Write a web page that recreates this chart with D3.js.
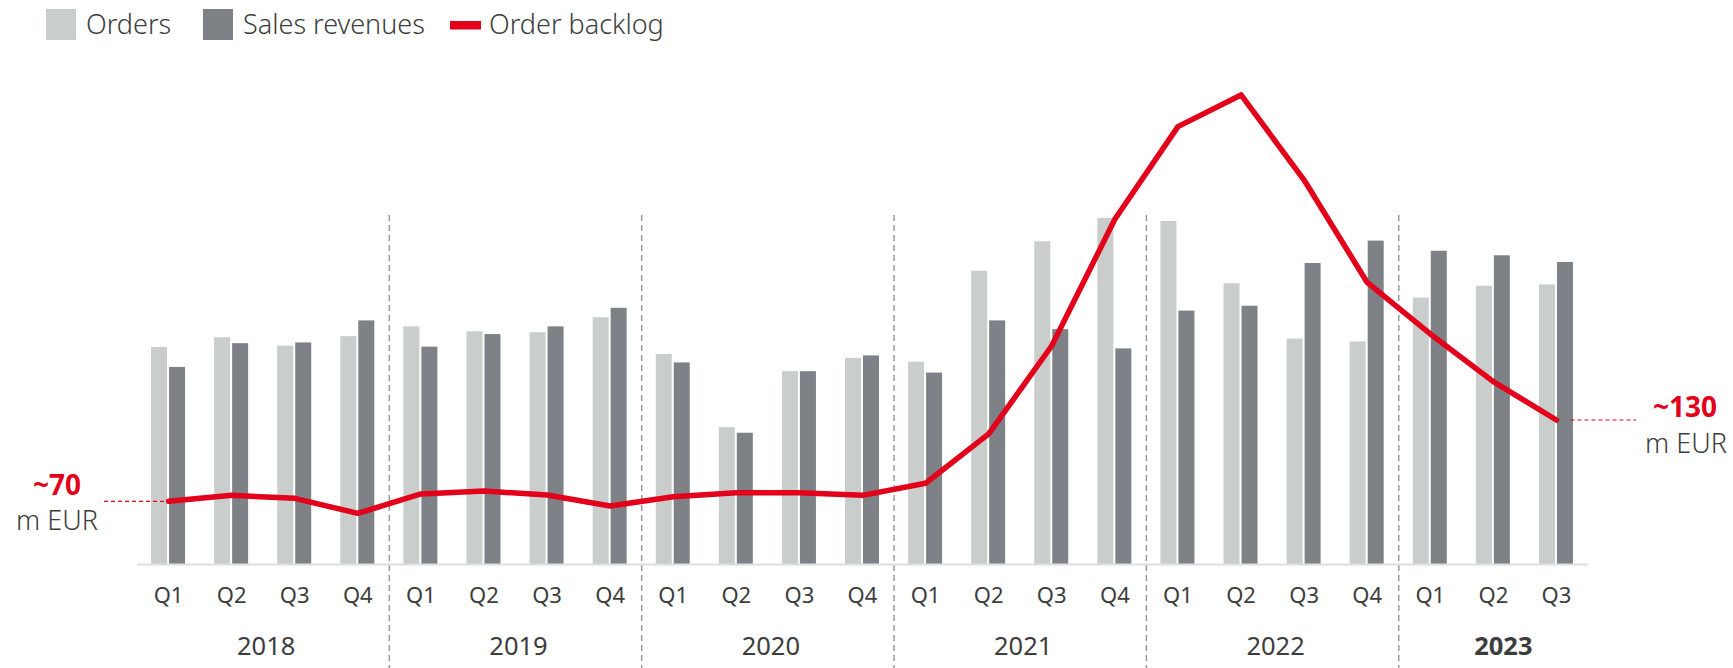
<!DOCTYPE html>
<html>
<head>
<meta charset="utf-8">
<script src="https://cdn.jsdelivr.net/npm/d3@7"></script>
<style>
  body { margin: 0; background: #fff; }
  text { font-family: "Noto Sans", Lato, sans-serif; }
  .light { font-weight: 300; }
</style>
</head>
<body>
<svg id="chart" width="1733" height="668"></svg>
<script>
let years = ["2018", "2019", "2020", "2021", "2022", "2023"];
let quarters = ["Q1", "Q2", "Q3", "Q4",
  "Q1", "Q2", "Q3", "Q4",
  "Q1", "Q2", "Q3", "Q4",
  "Q1", "Q2", "Q3", "Q4",
  "Q1", "Q2", "Q3", "Q4",
  "Q1", "Q2", "Q3"];
let quarterYear = [0, 0, 0, 0, 1, 1, 1, 1, 2, 2, 2, 2, 3, 3, 3, 3, 4, 4, 4, 4, 5, 5, 5];
// bars, index units
let orders = [62.0, 64.8, 62.4, 65.1, 67.9, 66.5, 66.2, 70.5, 60.0, 39.1, 55.1, 58.9,
  57.8, 83.8, 92.2, 98.9, 98.0, 80.2, 64.4, 63.6, 76.1, 79.5, 79.9];
let sales = [56.3, 63.1, 63.3, 69.6, 62.1, 65.7, 67.9, 73.2, 57.6, 37.5, 55.1, 59.6,
  54.7, 69.6, 67.1, 61.6, 72.4, 73.8, 86.0, 92.4, 89.5, 88.2, 86.3];
// order backlog in m EUR (scaled from the ~70 / ~130 labels)
let backlog = [70, 74.4, 72.2, 61.1, 75.4, 77.6, 74.6, 66.5, 73.4, 76.3, 76.3, 74.4,
  83.3, 119.7, 184.8, 278.1, 346.5, 369.9, 307.1, 231.5, 193.5, 158.3, 130];

let c_orders = "#c9cecd";
let c_sales = "#7e8286";
let c_red = "#e2001a";
let c_text = "#3d3d3d";

let svg = d3.select("#chart");
let keys = quarters.map((q, i) => i);

let x = d3.scaleBand(keys, [137, 1588]);
let yBar = d3.scaleLinear([0, 100], [564, 214]);
let yLine = d3.scaleLinear([70, 130], [501.3, 420]);
let cx = i => x(i) + x.bandwidth() / 2;

// legend
let legend = svg.append("g").attr("class", "light").attr("font-size", 27).attr("fill", c_text);
legend.append("rect").attr("x", 46).attr("y", 9).attr("width", 30).attr("height", 31).attr("fill", c_orders);
legend.append("text").attr("x", 86).attr("y", 33.5).text("Orders");
legend.append("rect").attr("x", 203).attr("y", 9).attr("width", 30).attr("height", 31).attr("fill", c_sales);
legend.append("text").attr("x", 243).attr("y", 33.5).text("Sales revenues");
legend.append("rect").attr("x", 450).attr("y", 21).attr("width", 31).attr("height", 8.5).attr("fill", c_red);
legend.append("text").attr("x", 489).attr("y", 33.5).text("Order backlog");

// year dividers
let bounds = keys.filter(i => i > 0 && quarterYear[i] !== quarterYear[i - 1]);
svg.append("g")
  .selectAll("line")
  .data(bounds)
  .join("line")
  .attr("x1", d => x(d))
  .attr("x2", d => x(d))
  .attr("y1", 215)
  .attr("y2", 668)
  .attr("stroke", "#9a9a9a")
  .attr("stroke-width", 1.5)
  .attr("stroke-dasharray", "6,4");

// bars
let bars = svg.append("g");
bars.selectAll("rect.orders")
  .data(orders)
  .join("rect")
  .attr("class", "orders")
  .attr("x", (d, i) => cx(i) - 17.5)
  .attr("y", d => yBar(d))
  .attr("width", 16)
  .attr("height", d => yBar(0) - yBar(d))
  .attr("fill", c_orders);
bars.selectAll("rect.sales")
  .data(sales)
  .join("rect")
  .attr("class", "sales")
  .attr("x", (d, i) => cx(i) + 0.5)
  .attr("y", d => yBar(d))
  .attr("width", 16)
  .attr("height", d => yBar(0) - yBar(d))
  .attr("fill", c_sales);

// baseline
svg.append("line")
  .attr("x1", x.range()[0]).attr("x2", x.range()[1])
  .attr("y1", yBar(0) + 0.5).attr("y2", yBar(0) + 0.5)
  .attr("stroke", "#dedede")
  .attr("stroke-width", 2);

// quarter labels
svg.append("g")
  .attr("font-size", 22)
  .attr("fill", c_text)
  .attr("text-anchor", "middle")
  .selectAll("text")
  .data(quarters)
  .join("text")
  .attr("x", (d, i) => cx(i))
  .attr("y", 602.5)
  .text(d => d);

// year labels
svg.append("g")
  .attr("font-size", 25.5)
  .attr("fill", c_text)
  .attr("text-anchor", "middle")
  .selectAll("text")
  .data(years)
  .join("text")
  .attr("x", (d, yi) => {
    let idx = keys.filter(i => quarterYear[i] === yi);
    let mid = (x(idx[0]) + x(idx[idx.length - 1]) + x.bandwidth()) / 2;
    return yi === years.length - 1 ? mid + 10 : mid + 3;
  })
  .attr("y", 655)
  .attr("font-weight", (d, yi) => yi === years.length - 1 ? "bold" : "normal")
  .text(d => d);

// start / end markers
let first = 0, last = backlog.length - 1;
svg.append("line")
  .attr("x1", 104).attr("x2", cx(first))
  .attr("y1", yLine(backlog[first])).attr("y2", yLine(backlog[first]))
  .attr("stroke", c_red).attr("stroke-width", 1.2).attr("stroke-dasharray", "4,3");
svg.append("line")
  .attr("x1", cx(last) + 14).attr("x2", 1636)
  .attr("y1", yLine(backlog[last])).attr("y2", yLine(backlog[last]))
  .attr("stroke", c_red).attr("stroke-width", 1.2).attr("stroke-dasharray", "4,3");

// backlog line
svg.append("path")
  .datum(backlog)
  .attr("fill", "none")
  .attr("stroke", c_red)
  .attr("stroke-width", 5.5)
  .attr("stroke-linejoin", "round")
  .attr("stroke-linecap", "round")
  .attr("d", d3.line().x((d, i) => cx(i)).y(d => yLine(d)));

let ann = svg.append("g").attr("text-anchor", "middle");
ann.append("text").attr("x", 57).attr("y", 495)
  .attr("font-size", 28).attr("font-weight", "bold").attr("fill", c_red)
  .text("~" + backlog[first]);
ann.append("text").attr("class", "light").attr("x", 57).attr("y", 530)
  .attr("font-size", 27).attr("fill", c_text).text("m EUR");
ann.append("text").attr("x", 1685).attr("y", 417)
  .attr("font-size", 28).attr("font-weight", "bold").attr("fill", c_red)
  .text("~" + backlog[last]);
ann.append("text").attr("class", "light").attr("x", 1686).attr("y", 453)
  .attr("font-size", 27).attr("fill", c_text).text("m EUR");
</script>
</body>
</html>
